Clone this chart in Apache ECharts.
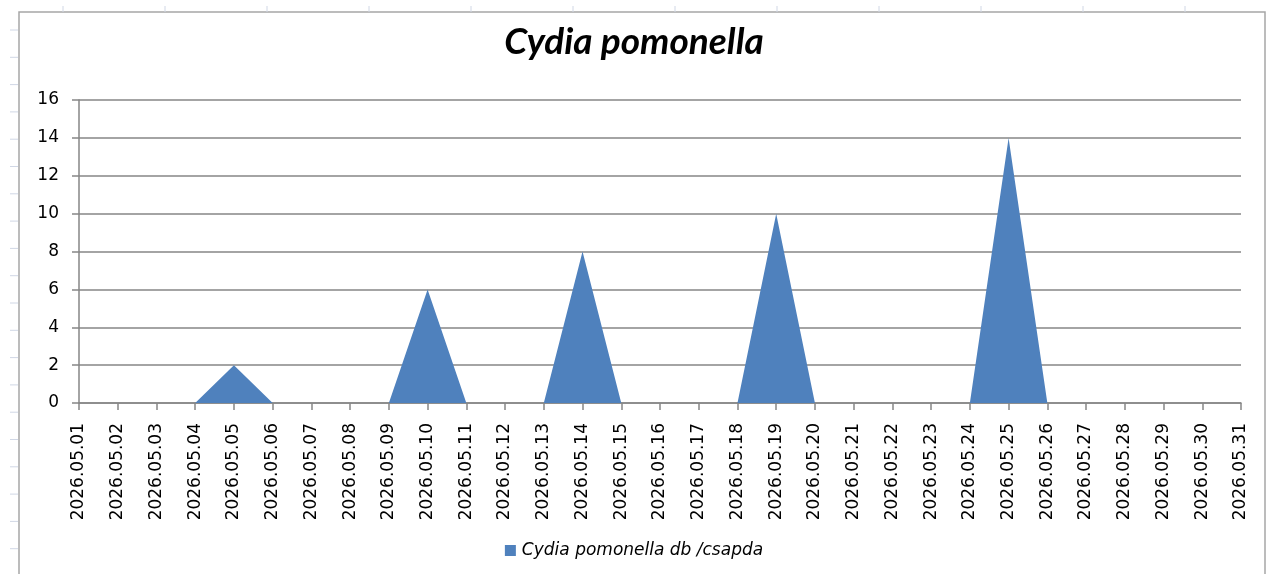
<!DOCTYPE html>
<html>
<head>
    <meta charset="UTF-8" />
    <title>Cydia pomonella</title>
    <script src="https://cdn.jsdelivr.net/npm/echarts@6/dist/echarts.min.js"></script>
    <style>
        html, body { margin: 0; padding: 0; background: #fff; }
        #main { width: 1268px; height: 574px; }
    </style>
</head>
<body>
    <div id="main"></div>
    <script>
        var days = [];
        var dayNames = ['01', '02', '03', '04', '05', '06', '07', '08', '09', '10',
            '11', '12', '13', '14', '15', '16', '17', '18', '19', '20',
            '21', '22', '23', '24', '25', '26', '27', '28', '29', '30', '31'];
        for (var i = 0; i < dayNames.length; i++) days.push('2026.05.' + dayNames[i]);
        var catches = [0, 0, 0, 0, 2, 0, 0, 0, 0, 6,
            0, 0, 0, 8, 0, 0, 0, 0, 10, 0,
            0, 0, 0, 0, 14, 0, 0, 0, 0, 0, 0];
        var yTicks = [0, 2, 4, 6, 8, 10, 12, 14, 16];

        // sheet decoration behind the chart (frame + faint cell ticks)
        var deco = [];
        deco.push({ type: 'rect', shape: { x: 19, y: 12, width: 1246, height: 580 },
            style: { fill: 'none', stroke: '#a6a6a6', lineWidth: 1.5 }, z: -1 });
        for (var x = 63; x < 1268; x += 102) {
            deco.push({ type: 'line', shape: { x1: x, y1: 6, x2: x, y2: 12 },
                style: { stroke: '#d0d7e5', lineWidth: 1 }, z: -1 });
        }
        for (var y = 30; y < 574; y += 27.3) {
            deco.push({ type: 'line', shape: { x1: 10, y1: y, x2: 18, y2: y },
                style: { stroke: '#d0d7e5', lineWidth: 1 }, z: -1 });
        }

        var myChart = echarts.init(document.getElementById('main'));
        var option = {
            backgroundColor: '#fff',
            animation: false,
            textStyle: { fontFamily: 'DejaVu Sans' },
            graphic: deco,
            title: {
                text: 'Cydia pomonella',
                left: 'center',
                top: 19,
                textStyle: { fontSize: 37, fontWeight: 'bold', fontStyle: 'italic', color: '#000', fontFamily: 'Lato' }
            },
            legend: {
                top: 537,
                left: 'center',
                icon: 'rect',
                itemWidth: 11,
                itemHeight: 11,
                itemGap: 8,
                textStyle: { fontSize: 17, fontStyle: 'italic', color: '#000', padding: [0, 0, 0, 1] },
                data: ['Cydia pomonella db /csapda']
            },
            grid: { left: 79, right: 27, top: 100, bottom: 171 },
            xAxis: {
                type: 'category',
                boundaryGap: false,
                data: days,
                axisLine: { lineStyle: { color: '#868686', width: 1.5 } },
                axisTick: { length: 7, lineStyle: { color: '#868686', width: 1.5 } },
                axisLabel: { rotate: 90, interval: 0, margin: 20, fontSize: 17, color: '#000' },
                splitLine: { show: false }
            },
            yAxis: {
                type: 'value',
                min: yTicks[0],
                max: yTicks[yTicks.length - 1],
                interval: 2,
                axisLine: { show: true, lineStyle: { color: '#868686', width: 1.5 } },
                axisTick: { show: true, length: 7, lineStyle: { color: '#868686', width: 1.5 } },
                axisLabel: { fontSize: 17, color: '#000', margin: 20 },
                splitLine: { lineStyle: { color: '#868686', width: 1.5 } }
            },
            series: [{
                name: 'Cydia pomonella db /csapda',
                type: 'line',
                data: catches,
                showSymbol: false,
                symbol: 'none',
                lineStyle: { width: 0 },
                itemStyle: { color: '#4f81bd' },
                areaStyle: { color: '#4f81bd', opacity: 1 }
            }]
        };
        myChart.setOption(option);
    </script>
</body>
</html>
